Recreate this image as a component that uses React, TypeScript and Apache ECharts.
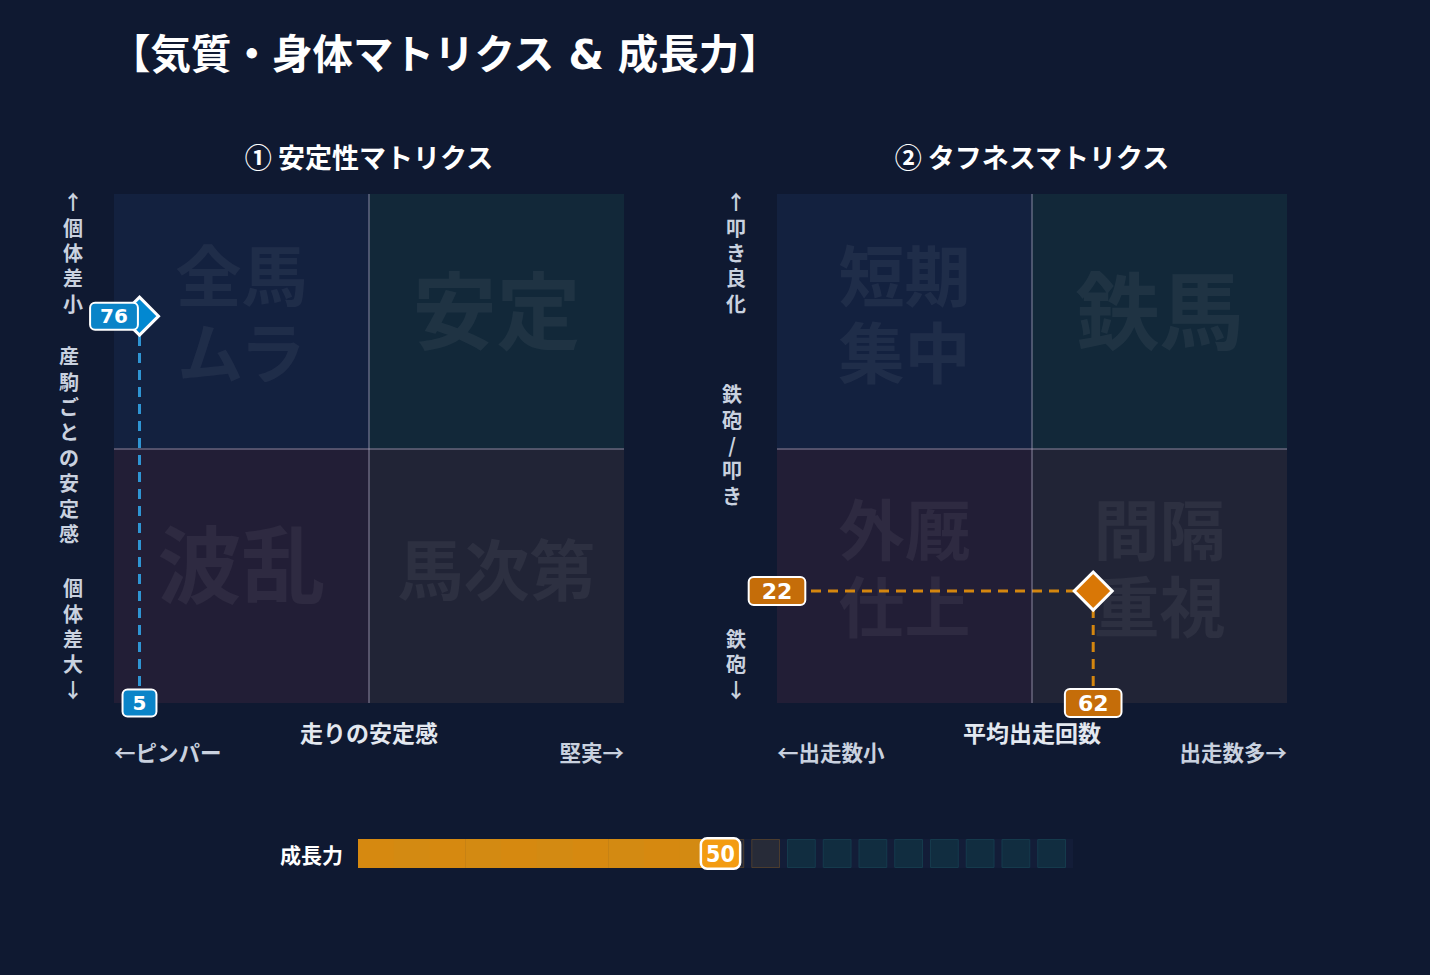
import React, { useEffect, useRef } from 'react';
import * as echarts from 'echarts';

// ---- data ----
const TITLE = '【気質・身体マトリクス & 成長力】';
const PANEL_TITLES = ['① 安定性マトリクス', '② タフネスマトリクス'];
const QUADRANT_LABELS_1 = ['全馬\nムラ', '安定', '波乱', '馬次第']; // TL, TR, BL, BR
const QUADRANT_LABELS_2 = ['短期\n集中', '鉄馬', '外厩\n仕上', '間隔\n重視'];
const Y_LABELS_1 = ['↑個体差小', '産駒ごとの安定感', '個体差大↓'];
const Y_LABELS_2 = ['↑叩き良化', '鉄砲/叩き', '鉄砲↓'];
const X_NAMES = ['走りの安定感', '平均出走回数'];
const X_ENDS_1 = ['←ピンパー', '堅実→'];
const X_ENDS_2 = ['←出走数小', '出走数多→'];
const POINT_1 = [5, 76];
const POINT_2 = [62, 22];
const GROWTH_CATEGORY = ['成長力'];
const GROWTH_VALUE = 50;
const GROWTH_POTENTIAL = 60;
const GROWTH_SEGMENTS = 20;

const JP = "'Noto Sans CJK JP', 'DejaVu Sans', sans-serif";
const NUM = "'DejaVu Sans', 'Noto Sans CJK JP', sans-serif";

const BG = '#0f1931';
const QUAD_COLORS = ['#13213f', '#122839', '#221e36', '#212436'];

const GRID_TOP = 194;
const GRID_H = 509;
const GRID_W = 510;
const GRID_LEFTS = [114, 777];

function vertical(s: string) {
  return Array.from(s).join('\n');
}

export default function App() {
  const ref = useRef<HTMLDivElement>(null);

  useEffect(() => {
    document.body.style.margin = '0';
    const chart = echarts.init(ref.current!, undefined, { renderer: 'svg' });

    const panels = [
      { q: QUADRANT_LABELS_1, p: POINT_1, color: '#0a84c8', line: '#2f95d3', marker: '#0288d1' },
      { q: QUADRANT_LABELS_2, p: POINT_2, color: '#c56d09', line: '#d4860f', marker: '#d97706' },
    ];

    const series: any[] = [];
    panels.forEach((pn, gi) => {
      const qAreas = [
        [0, 50, 50, 100],
        [50, 50, 100, 100],
        [0, 0, 50, 50],
        [50, 0, 100, 50],
      ].map((r, k) => {
        const txt = pn.q[k];
        const multi = txt.includes('\n');
        const big = !multi && txt.length <= 2;
        return [
          {
            xAxis: r[0],
            yAxis: r[3],
            itemStyle: { color: QUAD_COLORS[k] },
            label: {
              show: true,
              position: 'inside',
              formatter: txt,
              fontSize: big ? 84 : 66,
              lineHeight: big ? 90 : 77,
              fontWeight: 'bold',
              fontFamily: JP,
              color: 'rgba(255,255,255,0.055)',
              offset: [0, big ? -15 : multi ? -11 : -10],
            },
          },
          { xAxis: r[2], yAxis: r[1] },
        ];
      });
      series.push({
        type: 'line',
        xAxisIndex: gi,
        yAxisIndex: gi,
        data: [],
        z: 1,
        silent: true,
        markArea: { silent: true, data: qAreas },
        markLine: {
          silent: true,
          symbol: 'none',
          label: { show: false },
          lineStyle: { type: 'solid', width: 2, color: 'rgba(185,180,205,0.35)' },
          data: [{ xAxis: 50 }, { yAxis: 50 }],
        },
      });
      const [x, y] = pn.p;
      const dash = { color: pn.line, width: 3, type: [10, 7] };
      series.push({
        type: 'line', xAxisIndex: gi, yAxisIndex: gi, z: 3, silent: true,
        symbol: 'none', lineStyle: dash, data: [[x, 0], [x, y]],
      });
      series.push({
        type: 'line', xAxisIndex: gi, yAxisIndex: gi, z: 3, silent: true,
        symbol: 'none', lineStyle: dash, data: [[0, y], [x, y]],
      });
      series.push({
        type: 'scatter', xAxisIndex: gi, yAxisIndex: gi, z: 4, silent: true,
        symbol: 'diamond', symbolSize: 38,
        itemStyle: { color: pn.marker, borderColor: '#ffffff', borderWidth: 3, opacity: 1 },
        data: [[x, y]],
      });
      const big = gi === 1;
      series.push({
        type: 'scatter', xAxisIndex: gi, yAxisIndex: gi, z: 5, silent: true,
        symbol: 'rect', symbolSize: 1, itemStyle: { color: 'rgba(0,0,0,0)', opacity: 1 },
        data: [
          { value: [0, y], name: String(y) },
          { value: [x, 0], name: String(x) },
        ],
        label: {
          show: true,
          position: 'inside',
          formatter: (pr: any) => pr.name,
          fontFamily: NUM,
          fontWeight: 'bold',
          fontSize: big ? 22 : 20,
          lineHeight: big ? 22 : 21,
          color: '#ffffff',
          opacity: 1,
          backgroundColor: pn.color,
          borderColor: '#ffffff',
          borderWidth: 2,
          borderRadius: 4,
          padding: big ? [2, 12] : [2, 9],
        },
      });
    });

    // growth bar
    const step = 100 / GROWTH_SEGMENTS;
    const segData = Array.from({ length: GROWTH_SEGMENTS }, (_, i) => [i * step, GROWTH_CATEGORY[0], i]);
    series.push({
      type: 'bar', xAxisIndex: 2, yAxisIndex: 2, z: 1, silent: true,
      barWidth: '100%', itemStyle: { color: '#131d38' },
      data: [100],
    });
    series.push({
      type: 'custom', xAxisIndex: 2, yAxisIndex: 2, z: 2, silent: true,
      encode: { x: 0, y: 1 },
      data: segData,
      renderItem: (params: any, api: any) => {
        const i = api.value(2);
        const cs = params.coordSys;
        const s = api.coord([i * step, 0])[0];
        const e = api.coord([(i + 1) * step, 0])[0];
        const filled = (i + 1) * step <= GROWTH_VALUE;
        const potential = !filled && (i + 1) * step <= GROWTH_POTENTIAL;
        if (filled) {
          return {
            type: 'rect',
            shape: { x: s, y: cs.y, width: e - s + 0.5, height: cs.height },
            style: { fill: i % 2 === 0 ? '#d68910' : '#d38a12' },
          };
        }
        return {
          type: 'rect',
          shape: { x: s + 0.5, y: cs.y + 0.5, width: e - s - 8, height: cs.height - 1 },
          style: potential
            ? { fill: '#272b38', stroke: 'rgba(214,137,16,0.25)', lineWidth: 1 }
            : { fill: '#112d40', stroke: '#153a4c', lineWidth: 1 },
        };
      },
    });
    series.push({
      type: 'scatter', xAxisIndex: 2, yAxisIndex: 2, z: 5, silent: true,
      symbol: 'rect', symbolSize: 1, itemStyle: { color: 'rgba(0,0,0,0)', opacity: 1 },
      data: [[GROWTH_VALUE, 0]],
      label: {
        show: true,
        position: 'inside',
        offset: [5, 0],
        formatter: String(GROWTH_VALUE),
        fontFamily: "'DejaVu Sans Condensed', 'DejaVu Sans', sans-serif",
        fontWeight: 'bold',
        fontSize: 23,
        lineHeight: 26,
        color: '#ffffff',
        opacity: 1,
        backgroundColor: '#f39c12',
        borderColor: '#ffffff',
        borderWidth: 2.5,
        borderRadius: 5,
        padding: [1, 4],
      },
    });

    const txt = (text: string, x: number, y: number, size: number, align: string, vAlign: string, fill: string, lineHeight?: number, family?: string) => ({
      type: 'text',
      silent: true,
      style: {
        text, x, y,
        font: `bold ${size}px ${family || JP}`,
        fill,
        align, verticalAlign: vAlign,
        textAlign: align, textVerticalAlign: vAlign,
        lineHeight: lineHeight || size * 1.2,
      },
    });

    const labelColor = '#c9d1df';
    const graphics: any[] = [
      txt(TITLE, 110, 55, 40.5, 'left', 'middle', '#ffffff', undefined, NUM),
    ];
    [Y_LABELS_1, Y_LABELS_2].forEach((yl, gi) => {
      const gl = GRID_LEFTS[gi];
      const cx = gl - 41;
      const mid = GRID_TOP + GRID_H / 2;
      graphics.push(txt(PANEL_TITLES[gi], gl + GRID_W / 2, 156, 27, 'center', 'middle', '#ffffff'));
      graphics.push(txt(vertical(yl[0]), cx, GRID_TOP - 5, 20, 'center', 'top', labelColor, 25.4));
      graphics.push(txt(vertical(yl[1]), cx - 4, mid - 4, 20, 'center', 'middle', labelColor, 25.4));
      graphics.push(txt(vertical(yl[2]), cx, GRID_TOP + GRID_H - 1, 20, 'center', 'bottom', labelColor, 25.4));
      const ends = gi === 0 ? X_ENDS_1 : X_ENDS_2;
      graphics.push(txt(X_NAMES[gi], gl + GRID_W / 2, 732, 23, 'center', 'middle', '#e3e8f0'));
      graphics.push(txt(ends[0], gl, 751, 21.5, 'left', 'middle', labelColor));
      graphics.push(txt(ends[1], gl + GRID_W, 751, 21.5, 'right', 'middle', labelColor));
    });

    const valueAxis = (gi: number) => ({ type: 'value', gridIndex: gi, min: 0, max: 100, show: false });

    chart.setOption({
      animation: false,
      backgroundColor: BG,
      textStyle: { fontFamily: JP },
      grid: [
        { left: GRID_LEFTS[0], top: GRID_TOP, width: GRID_W, height: GRID_H },
        { left: GRID_LEFTS[1], top: GRID_TOP, width: GRID_W, height: GRID_H },
        { left: 358, top: 839, width: 715, height: 29 },
      ],
      xAxis: [valueAxis(0), valueAxis(1), valueAxis(2)],
      yAxis: [
        valueAxis(0),
        valueAxis(1),
        {
          type: 'category',
          gridIndex: 2,
          data: GROWTH_CATEGORY,
          axisLine: { show: false },
          axisTick: { show: false },
          splitLine: { show: false },
          axisLabel: { color: '#ffffff', fontSize: 21, fontWeight: 'bold', fontFamily: JP, margin: 15 },
        },
      ],
      series,
      graphic: graphics,
    });

    return () => chart.dispose();
  }, []);

  return <div ref={ref} style={{ width: 1430, height: 975 }} />;
}
